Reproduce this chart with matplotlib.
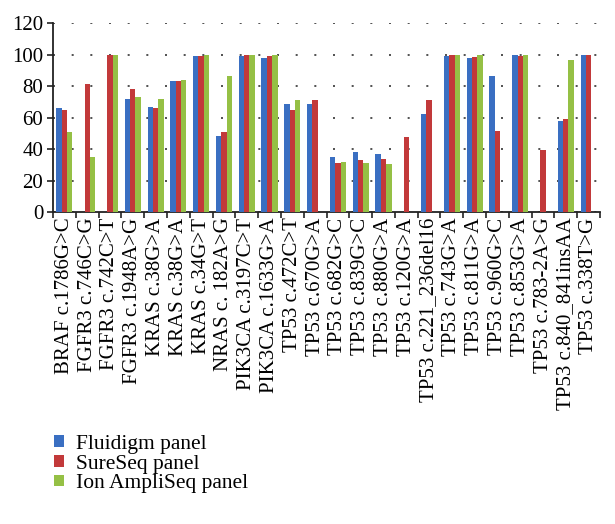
import numpy as np
import matplotlib
matplotlib.use("Agg")
import matplotlib.pyplot as plt

plt.rcParams['font.family'] = ['Liberation Serif', 'DejaVu Serif']

variants = ["BRAF c.1786G>C", "FGFR3 c.746C>G", "FGFR3 c.742C>T", "FGFR3 c.1948A>G",
            "KRAS c.38G>A", "KRAS c.38G>A", "KRAS c.34G>T", "NRAS c. 182A>G",
            "PIK3CA c.3197C>T", "PIK3CA c.1633G>A", "TP53 c.472C>T", "TP53 c.670G>A",
            "TP53 c.682G>C", "TP53 c.839G>C", "TP53 c.880G>A", "TP53 c.120G>A",
            "TP53 c.221_236del16", "TP53 c.743G>A", "TP53 c.811G>A", "TP53 c.960G>C",
            "TP53 c.853G>A", "TP53 c.783-2A>G", "TP53 c.840_841insAA", "TP53 c.338T>G"]

nan = np.nan
fluidigm = [66, nan, nan, 72, 67, 83, 99, 48.5, 99.4, 98, 68.5, 68.5,
            35, 38, 36.7, nan, 62.5, 99.4, 98.2, 86.3, 100, nan, 58, 100]
sureseq = [65, 81.4, 100, 78, 66.2, 83, 99.4, 50.7, 100, 99.4, 65, 71.2,
           31, 33, 34, 47.7, 71.2, 100, 98.8, 51.3, 99.4, 39.4, 59.2, 100]
ampliseq = [51, 35, 100, 73, 72, 84, 100, 86.5, 100, 100, 71.2, nan,
            31.8, 31, 30.8, nan, nan, 100, 100, nan, 100, nan, 96.7, nan]

series = [("Fluidigm panel", fluidigm, "#3a6fc2"),
          ("SureSeq panel", sureseq, "#c2393a"),
          ("Ion AmpliSeq panel", ampliseq, "#95c045")]

fig = plt.figure(figsize=(6.15, 5.24), dpi=100)
ax = fig.add_axes([0.0862, 0.5954, 0.8894, 0.3601])

x = np.arange(len(variants))
w = 0.235
for i, (name, vals, col) in enumerate(series):
    ax.bar(x + (i - 1) * w, vals, width=w, color=col, label=name, zorder=3)

ax.set_xlim(-0.5, len(variants) - 0.5)
ax.set_ylim(0, 120)
ax.set_yticks(range(0, 121, 20))
ax.tick_params(axis='y', labelsize=15, length=4, width=1.2, color='#222222', pad=3)
ax.set_xticks(x)
ax.set_xticklabels(variants, rotation=90, fontsize=15)
ax.tick_params(axis='x', length=0, pad=4)
ax.set_xticks(np.arange(-0.5, len(variants), 1), minor=True)
ax.tick_params(axis='x', which='minor', length=4, width=1.2, color='#222222')

for s in ['top', 'right']:
    ax.spines[s].set_visible(False)
ax.spines['left'].set_color('#222222')
ax.spines['bottom'].set_color('#222222')
ax.spines['left'].set_linewidth(1.3)
ax.spines['bottom'].set_linewidth(1.3)

ax.yaxis.grid(True, linestyle=(0, (1.2, 10)), color='#333333', linewidth=1.2, zorder=0)

fig.legend(loc='upper left', bbox_to_anchor=(0.088, 0.170), frameon=False,
           fontsize=15.5, handlelength=0.45, handleheight=0.45, handletextpad=0.55,
           labelspacing=0.03, borderaxespad=0, borderpad=0)

fig.savefig("out.png", dpi=100)
